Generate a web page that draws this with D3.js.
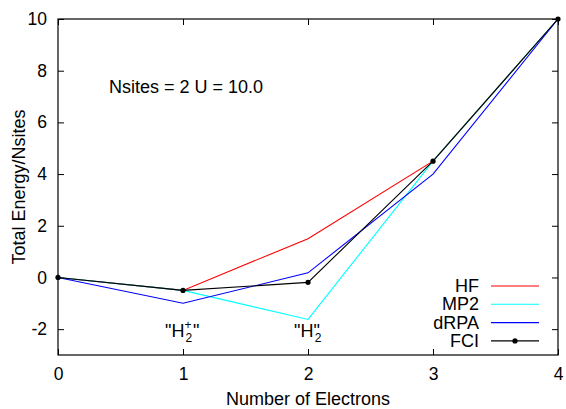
<!DOCTYPE html>
<html>
<head>
<meta charset="utf-8">
<script src="https://cdn.jsdelivr.net/npm/d3@7"></script>
<style>
  html, body { margin: 0; padding: 0; background: #fff; }
  svg { display: block; font-family: "Liberation Sans", Arial, Helvetica, sans-serif; }
</style>
</head>
<body>
<svg id="chart" width="566" height="409"></svg>
<script>
// Hubbard dimer energies per site vs. number of electrons
const electrons = [0, 1, 2, 3, 4];
const hfValues   = [0, -0.5, 1.5, 4.5, 10];
const mp2Values  = [0, -0.5, -1.625, 4.5, 10];
const drpaValues = [0, -1.0, 0.18, 4.0, 10];
const fciValues  = [0, -0.5, -0.19, 4.5, 10];

const xTicks = [0, 1, 2, 3, 4];
const yTicks = [-2, 0, 2, 4, 6, 8, 10];

const seriesNames  = ["HF", "MP2", "dRPA", "FCI"];
const seriesValues = [hfValues, mp2Values, drpaValues, fciValues];
const seriesColors = ["#ff0000", "#00ffff", "#0000ff", "#000000"];

const W = 566, H = 409;
const margin = { left: 58, right: 8, top: 19, bottom: 54 };
const svg = d3.select("#chart");

const x = d3.scaleLinear().domain([0, 4]).range([margin.left, W - margin.right]);
const y = d3.scaleLinear().domain([-3, 10]).range([H - margin.bottom, margin.top]);

const FS = 18;
const TICK_FS = 17.5;
const tickLen = 6;
const plainNum = d => String(d);   // plain hyphen for negatives

// axes with inward ticks (bottom/left labelled, top/right mirrored)
const gx = svg.append("g").attr("transform", `translate(0,${y(-3)})`)
  .call(d3.axisBottom(x).tickValues(xTicks).tickSizeInner(-tickLen).tickSizeOuter(0).tickPadding(13).tickFormat(plainNum));
const gy = svg.append("g").attr("transform", `translate(${x(0)},0)`)
  .call(d3.axisLeft(y).tickValues(yTicks).tickSizeInner(-tickLen).tickSizeOuter(0).tickPadding(11).tickFormat(plainNum));
const gt = svg.append("g").attr("transform", `translate(0,${y(10)})`)
  .call(d3.axisTop(x).tickValues(xTicks).tickSizeInner(-tickLen).tickSizeOuter(0).tickFormat(""));
const gr = svg.append("g").attr("transform", `translate(${x(4)},0)`)
  .call(d3.axisRight(y).tickValues(yTicks).tickSizeInner(-tickLen).tickSizeOuter(0).tickFormat(""));

[gx, gy, gt, gr].forEach(g => {
  g.select(".domain").remove();
  g.selectAll(".tick line").attr("stroke", "#000").attr("stroke-width", 1);
  g.selectAll("text").attr("font-size", TICK_FS).attr("fill", "#000").attr("font-family", null);
});
gx.selectAll("text").attr("dy", "0.71em");

// frame
svg.append("rect")
  .attr("x", x(0)).attr("y", y(10))
  .attr("width", x(4) - x(0)).attr("height", y(-3) - y(10))
  .attr("fill", "none").attr("stroke", "#000").attr("stroke-width", 1.2);

// series lines
const line = d3.line().x((d, i) => x(electrons[i])).y(d => y(d));
seriesValues.forEach((vals, k) => {
  svg.append("path")
    .datum(vals)
    .attr("d", line)
    .attr("fill", "none")
    .attr("stroke", seriesColors[k])
    .attr("stroke-width", 1.1);
});

// FCI markers
svg.append("g").selectAll("circle")
  .data(fciValues)
  .join("circle")
  .attr("cx", (d, i) => x(electrons[i]))
  .attr("cy", d => y(d))
  .attr("r", 2.6)
  .attr("fill", "#000");

// axis titles
svg.append("text")
  .attr("x", (x(0) + x(4)) / 2).attr("y", 405)
  .attr("text-anchor", "middle").attr("font-size", FS)
  .text("Number of Electrons");
svg.append("text")
  .attr("transform", `translate(25,${(y(-3) + y(10)) / 2}) rotate(-90)`)
  .attr("text-anchor", "middle").attr("font-size", FS)
  .text("Total Energy/Nsites");

// parameter label
svg.append("text")
  .attr("x", 109).attr("y", 93)
  .attr("font-size", FS)
  .text("Nsites = 2 U = 10.0");

// state annotations
const labY = y(-2) + 8;
const hp = svg.append("text").attr("x", x(1) - 18).attr("y", labY).attr("font-size", FS);
hp.append("tspan").text("\"H");
hp.append("tspan").attr("font-size", 12).attr("dy", -8).text("+");
hp.append("tspan").attr("font-size", 12).attr("dx", -6).attr("dy", 13).text("2");
hp.append("tspan").attr("dx", 1).attr("dy", -5).text("\"");

const h2 = svg.append("text").attr("x", x(2) - 14).attr("y", labY).attr("font-size", FS);
h2.append("tspan").text("\"H\"");
h2.append("tspan").attr("font-size", 12).attr("dx", -5).attr("dy", 5).text("2");

// legend
const legX = 479, legLine0 = 491, legLine1 = 539, legY0 = 286, legStep = 18.3;
seriesNames.forEach((name, k) => {
  const ly = legY0 + k * legStep;
  svg.append("text")
    .attr("x", legX).attr("y", ly + 6)
    .attr("text-anchor", "end").attr("font-size", FS)
    .text(name);
  svg.append("line")
    .attr("x1", legLine0).attr("x2", legLine1)
    .attr("y1", ly).attr("y2", ly)
    .attr("stroke", seriesColors[k]).attr("stroke-width", 1.1);
  if (name === "FCI") {
    svg.append("circle")
      .attr("cx", (legLine0 + legLine1) / 2).attr("cy", ly)
      .attr("r", 2.6).attr("fill", "#000");
  }
});
</script>
</body>
</html>
